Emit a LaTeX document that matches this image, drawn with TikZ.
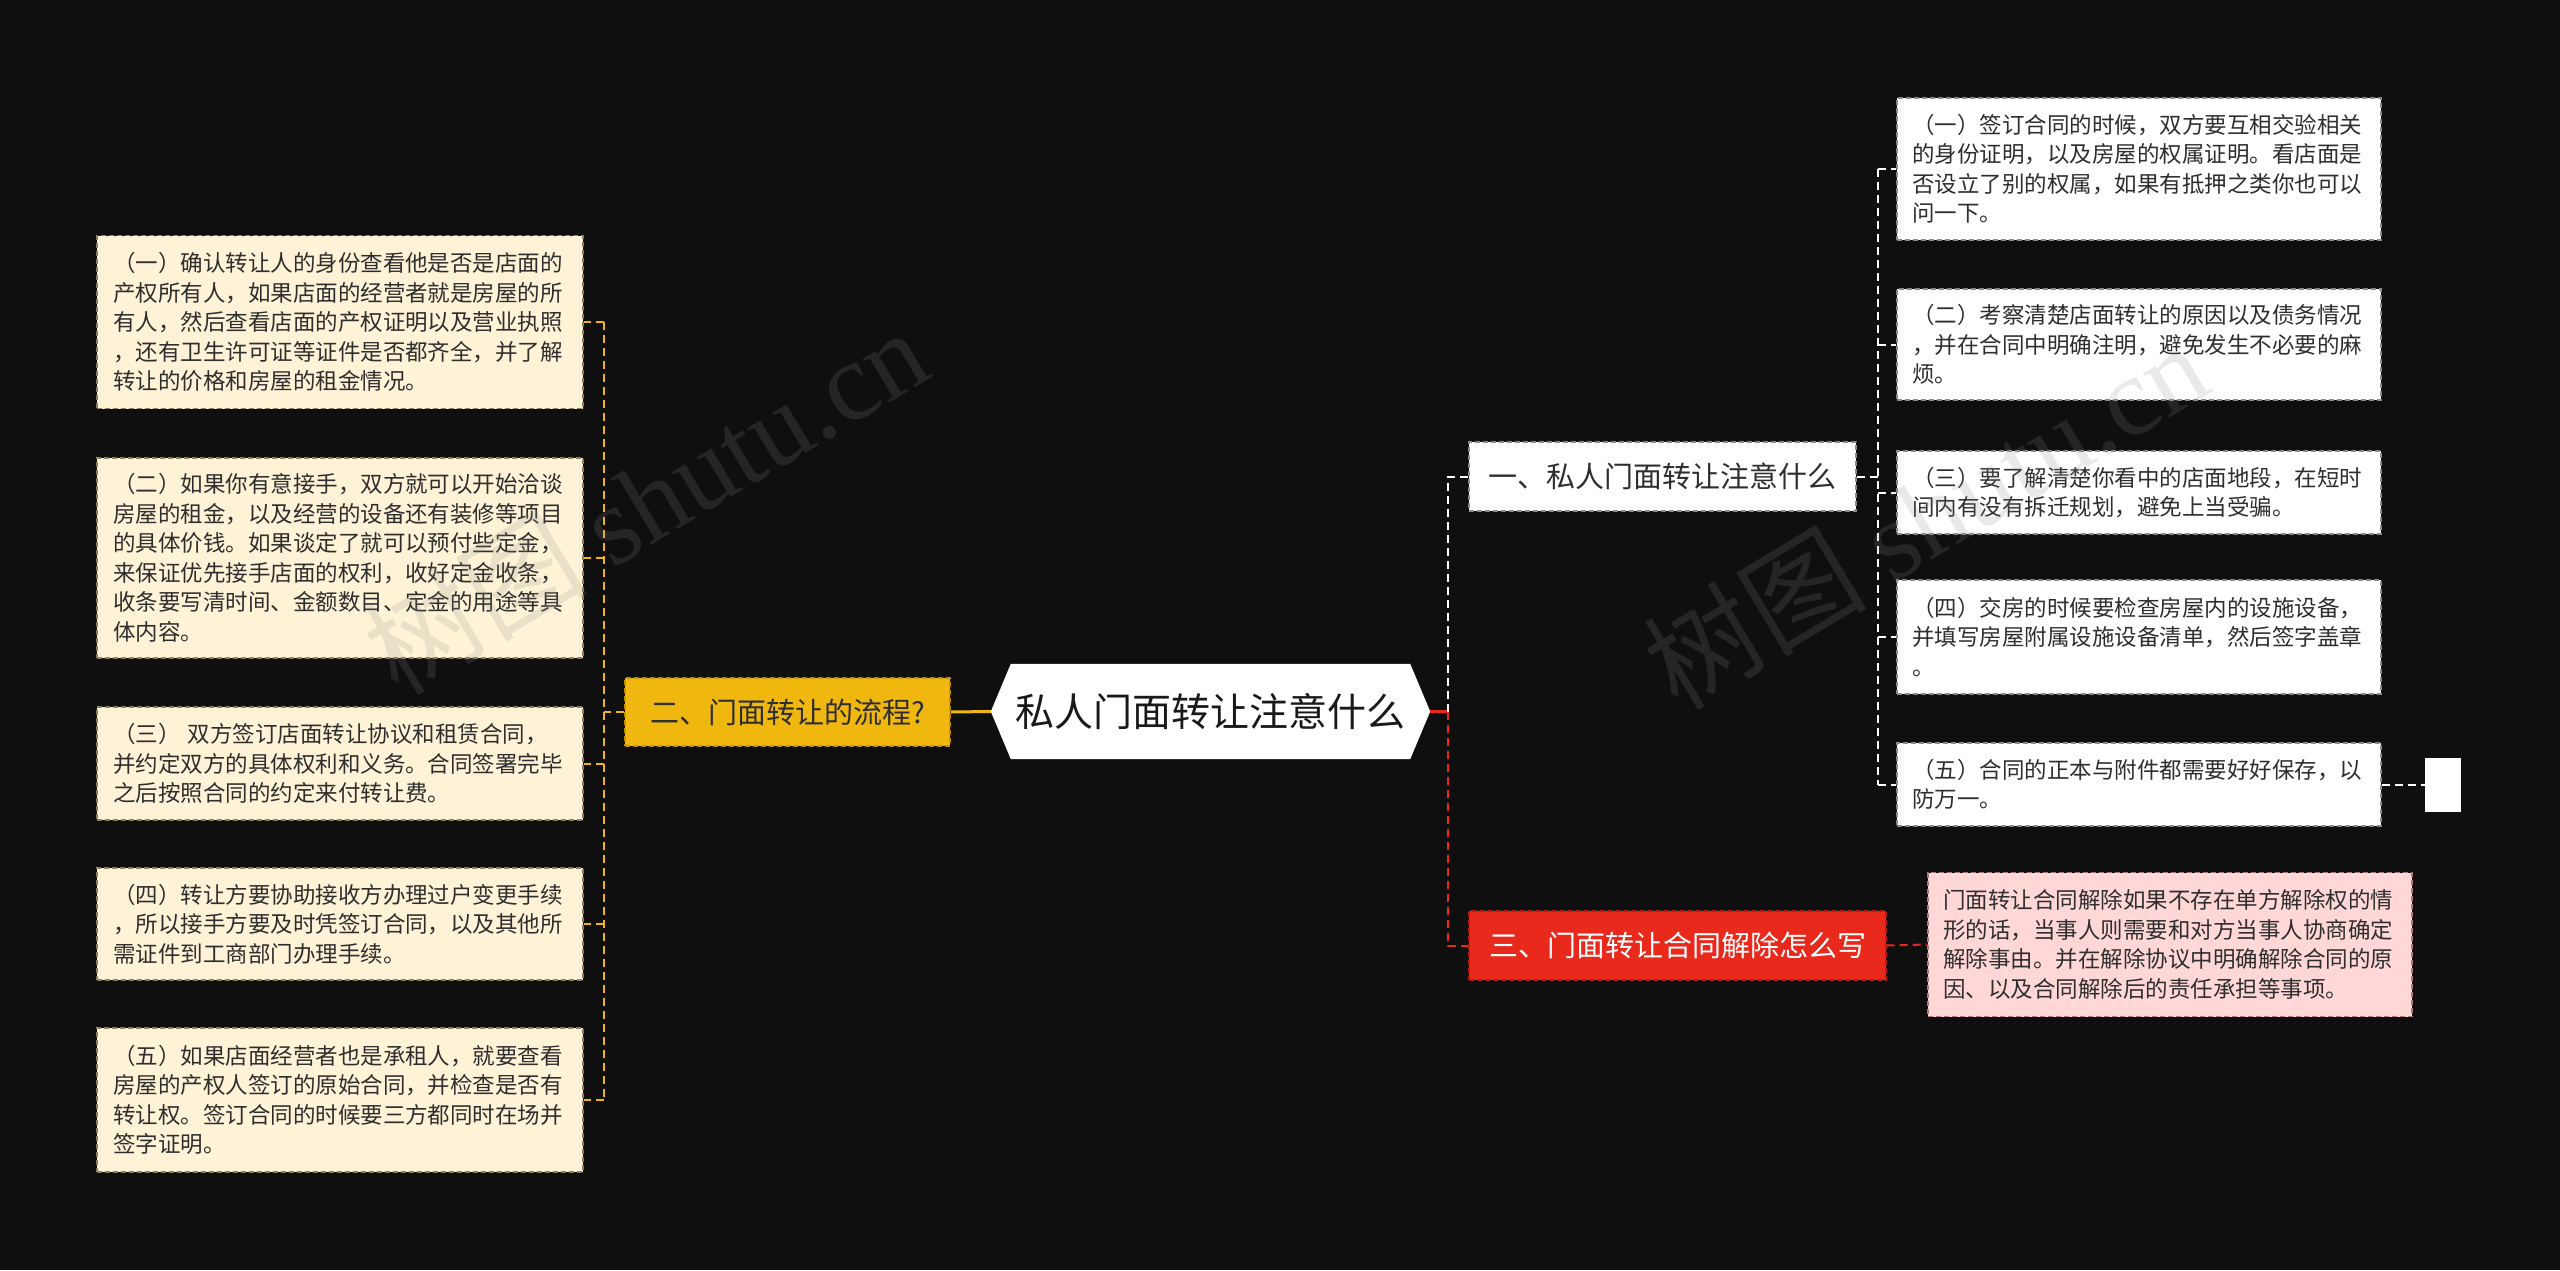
\documentclass[tikz,border=0pt]{standalone}
\usepackage{fontspec}
\setmainfont{Noto Sans CJK SC}
\newfontfamily\wmserif{Liberation Serif}
\usetikzlibrary{backgrounds}
\definecolor{bg}{HTML}{0F0F0F}
\definecolor{cream}{HTML}{FEF3D6}
\definecolor{creamline}{HTML}{8C7F5E}
\definecolor{gold}{HTML}{F0B70F}
\definecolor{goldline}{HTML}{C08E00}
\definecolor{redfill}{HTML}{E8291C}
\definecolor{redline}{HTML}{B51C10}
\definecolor{pinkfill}{HTML}{FFD7D7}
\definecolor{pinkline}{HTML}{B07878}
\definecolor{txt}{HTML}{2E2E2E}
\definecolor{whiteline}{HTML}{8A8A8A}
\definecolor{wm}{HTML}{8A8A8A}
\newcommand{\leaffont}{\fontsize{22.5pt}{29.5pt}\selectfont}
\newcommand{\branchfont}{\fontsize{29pt}{34pt}\selectfont}
\newcommand{\rootfont}{\fontsize{39pt}{45pt}\selectfont}
\begin{document}
\begin{tikzpicture}[x=1pt,y=-1pt,
  leaf/.style={text width=454pt, align=left, inner xsep=15pt, inner ysep=0pt,
    font=\leaffont, text=txt, line width=1.4pt, dash pattern=on 5pt off 3pt},
  creambox/.style={leaf, fill=cream, draw=creamline, minimum width=486pt},
  whitebox/.style={leaf, fill=white, draw=whiteline, minimum width=484pt},
  pinkbox/.style={leaf, fill=pinkfill, draw=pinkline, minimum width=484pt},
  branch/.style={font=\branchfont, inner sep=0pt, line width=1.4pt, dash pattern=on 5pt off 3pt},
  yconn/.style={draw=gold, line width=2pt, dash pattern=on 8pt off 5pt},
  wconn/.style={draw=white, line width=2pt, dash pattern=on 8pt off 5pt},
  rconn/.style={draw=redfill, line width=2pt, dash pattern=on 8pt off 5pt},
  wmark/.style={text=wm, opacity=0.18, rotate=31, inner sep=0pt}
]
\useasboundingbox (0,0) rectangle (2560,1270);

% root
\node[font=\rootfont, text=black!90, minimum width=399pt, minimum height=95pt, inner sep=0pt] (c) at (1210.5,711.5) {私人门面转让注意什么};

% branches
\node[branch, fill=gold, draw=goldline, text=txt, minimum width=325pt, minimum height=68pt] (n2) at (787.5,712) {二、门面转让的流程?};
\node[branch, fill=white, draw=whiteline, text=txt, minimum width=387pt, minimum height=69pt] (n1) at (1662.5,476.5) {一、私人门面转让注意什么};
\node[branch, fill=redfill, draw=redline, text=white, minimum width=417pt, minimum height=69pt] (n3) at (1677.5,945.5) {三、门面转让合同解除怎么写};

% left leaves
\node[creambox, minimum height=173pt] (l1) at (340,322) {（一）确认转让人的身份查看他是否是店面的\\产权所有人，如果店面的经营者就是房屋的所\\有人，然后查看店面的产权证明以及营业执照\\，还有卫生许可证等证件是否都齐全，并了解\\转让的价格和房屋的租金情况。};
\node[creambox, minimum height=200pt] (l2) at (340,558) {（二）如果你有意接手，双方就可以开始洽谈\\房屋的租金，以及经营的设备还有装修等项目\\的具体价钱。如果谈定了就可以预付些定金，\\来保证优先接手店面的权利，收好定金收条，\\收条要写清时间、金额数目、定金的用途等具\\体内容。};
\node[creambox, minimum height=113pt] (l3) at (340,763.5) {（三） 双方签订店面转让协议和租赁合同，\\并约定双方的具体权利和义务。合同签署完毕\\之后按照合同的约定来付转让费。};
\node[creambox, minimum height=112pt] (l4) at (340,924) {（四）转让方要协助接收方办理过户变更手续\\，所以接手方要及时凭签订合同，以及其他所\\需证件到工商部门办理手续。};
\node[creambox, minimum height=144pt] (l5) at (340,1100) {（五）如果店面经营者也是承租人，就要查看\\房屋的产权人签订的原始合同，并检查是否有\\转让权。签订合同的时候要三方都同时在场并\\签字证明。};

% right leaves
\node[whitebox, minimum height=142pt] (r1) at (2139,169) {（一）签订合同的时候，双方要互相交验相关\\的身份证明，以及房屋的权属证明。看店面是\\否设立了别的权属，如果有抵押之类你也可以\\问一下。};
\node[whitebox, minimum height=111pt] (r2) at (2139,344.5) {（二）考察清楚店面转让的原因以及债务情况\\，并在合同中明确注明，避免发生不必要的麻\\烦。};
\node[whitebox, minimum height=83pt] (r3) at (2139,492.5) {（三）要了解清楚你看中的店面地段，在短时\\间内有没有拆迁规划，避免上当受骗。};
\node[whitebox, minimum height=114pt] (r4) at (2139,637) {（四）交房的时候要检查房屋内的设施设备，\\并填写房屋附属设施设备清单，然后签字盖章\\。};
\node[whitebox, minimum height=83pt] (r5) at (2139,784.5) {（五）合同的正本与附件都需要好好保存，以\\防万一。};
\node[fill=white, minimum width=36pt, minimum height=54pt, inner sep=0pt] (tiny) at (2443,784.5) {};

\node[pinkbox, minimum height=144pt] (p1) at (2170,944.5) {门面转让合同解除如果不存在单方解除权的情\\形的话，当事人则需要和对方当事人协商确定\\解除事由。并在解除协议中明确解除合同的原\\因、以及合同解除后的责任承担等事项。};

% background and root hexagon
\begin{pgfonlayer}{background}
\fill[bg] (0,0) rectangle (2560,1270);
\fill[white] ([xshift=-20pt]c.west) -- (c.north west) -- (c.north east) -- ([xshift=20pt]c.east) -- (c.south east) -- (c.south west) -- cycle;
\end{pgfonlayer}

% coordinates
\coordinate (cW) at ([xshift=-20pt]c.west);
\coordinate (cE) at ([xshift=20pt]c.east);
\coordinate (jR) at (1448,711.5);
\coordinate (bL) at (604,712);
\coordinate (bR) at (1878,476.5);

% root connectors
\draw[gold, line width=3pt] (n2.east) -- (cW);
\draw[redfill, line width=2.5pt] (cE) -- (jR);
\draw[wconn] (jR) |- (n1.west);
\draw[rconn] (jR) |- (n3.west);

% left bracket
\draw[yconn] (n2.west) -- (bL);
\draw[yconn] (l1.east -| bL) -- (l5.east -| bL);
\foreach \n in {l1,l2,l3,l4,l5} \draw[yconn] (\n.east -| bL) -- (\n.east);

% right bracket
\draw[wconn] (n1.east) -- (bR);
\draw[wconn] (r1.west -| bR) -- (r5.west -| bR);
\foreach \n in {r1,r2,r3,r4,r5} \draw[wconn] (\n.west -| bR) -- (\n.west);
\draw[wconn] (r5.east) -- (tiny.west);

% third branch
\draw[rconn] (n3.east) -- (p1.west);

% watermarks
\node[wmark] (wm1) at (645,500) {\fontsize{112pt}{116pt}\selectfont 树图 {\wmserif shutu.cn}};
\node[wmark] (wm2) at (1925,515) {\fontsize{112pt}{116pt}\selectfont 树图 {\wmserif shutu.cn}};
\end{tikzpicture}
\end{document}
